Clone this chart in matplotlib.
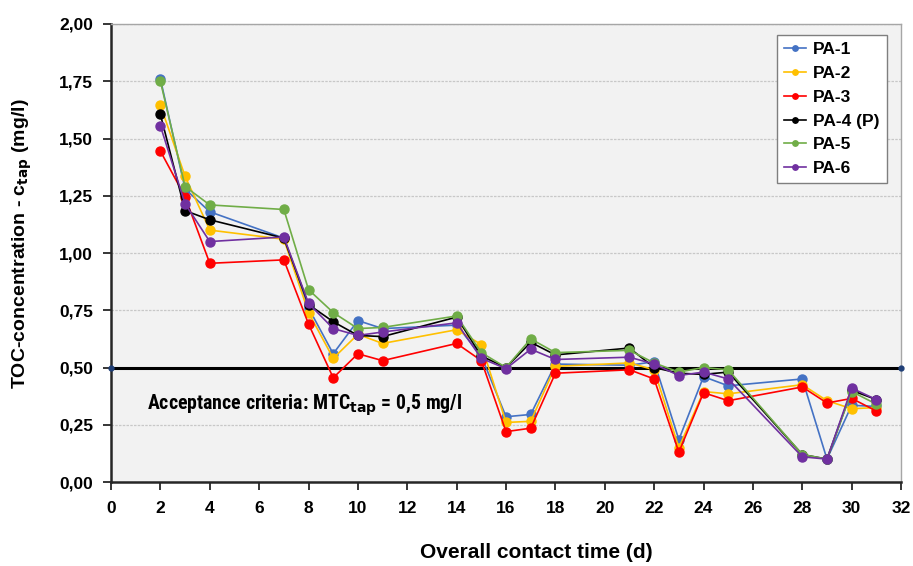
import matplotlib
matplotlib.use("Agg")
import matplotlib.pyplot as plt
from matplotlib.ticker import FuncFormatter, MultipleLocator

days = [2, 3, 4, 7, 8, 9, 10, 11, 14, 15, 16, 17, 18, 21, 22, 23, 24, 25, 28, 29, 30, 31]

pa1 = [1.76, 1.28, 1.18, 1.065, 0.76, 0.56, 0.705, 0.67, 0.685, 0.55, 0.285, 0.295, 0.515, 0.51, 0.525, 0.185, 0.46, 0.42, 0.45, 0.10, 0.335, 0.33]
pa2 = [1.645, 1.335, 1.10, 1.06, 0.74, 0.54, 0.645, 0.605, 0.665, 0.60, 0.26, 0.265, 0.505, 0.52, 0.49, 0.15, 0.395, 0.385, 0.425, 0.355, 0.32, 0.325]
pa3 = [1.445, 1.245, 0.955, 0.97, 0.69, 0.455, 0.56, 0.53, 0.605, 0.53, 0.22, 0.235, 0.475, 0.49, 0.45, 0.13, 0.39, 0.355, 0.415, 0.345, 0.365, 0.31]
pa4 = [1.605, 1.185, 1.145, 1.065, 0.775, 0.70, 0.64, 0.635, 0.72, 0.55, 0.50, 0.61, 0.555, 0.585, 0.50, 0.475, 0.47, 0.48, 0.12, 0.10, 0.40, 0.36]
pa5 = [1.75, 1.29, 1.21, 1.19, 0.84, 0.74, 0.67, 0.675, 0.725, 0.565, 0.50, 0.625, 0.565, 0.575, 0.52, 0.48, 0.50, 0.49, 0.12, 0.10, 0.395, 0.34]
pa6 = [1.555, 1.215, 1.05, 1.07, 0.78, 0.67, 0.64, 0.655, 0.695, 0.54, 0.495, 0.58, 0.535, 0.545, 0.515, 0.465, 0.48, 0.45, 0.11, 0.10, 0.41, 0.36]

series_names = ["PA-1", "PA-2", "PA-3", "PA-4 (P)", "PA-5", "PA-6"]
series_values = [pa1, pa2, pa3, pa4, pa5, pa6]
colors = ["#4472C4", "#FFC000", "#FF0000", "#000000", "#70AD47", "#7030A0"]

limit_x = [0, 32]
limit_y = [0.5, 0.5]

MAIN = ["Liberation Sans", "DejaVu Sans"]
NARROW = ["Liberation Sans Narrow", "DejaVu Sans Condensed", "Roboto Condensed", "Liberation Sans"]

fig = plt.figure(figsize=(9.13, 5.66), dpi=100)
ax = fig.add_axes([0.1216, 0.1484, 0.8653, 0.8092])
ax.set_facecolor("#F2F2F2")

ax.plot(limit_x, limit_y, color="black", lw=2.2, marker="o", ms=3.5,
        mfc="#1F3F77", mec="#1F3F77", zorder=3, clip_on=False)

for name, vals, c in zip(series_names, series_values, colors):
    ax.plot(days, vals, color=c, lw=1.2, marker="o", ms=6.5, mfc=c, mec=c,
            label=name, zorder=4)

ax.set_xlim(0, 32)
ax.set_ylim(0, 2.0)
ax.xaxis.set_major_locator(MultipleLocator(2))
ax.yaxis.set_major_locator(MultipleLocator(0.25))
ax.yaxis.set_major_formatter(FuncFormatter(lambda v, p: f"{v:.2f}".replace(".", ",")))

ax.grid(axis="y", color="#C8C8C8", lw=0.9, ls=(0, (2, 1)))
ax.set_axisbelow(True)

for s in ["top", "right"]:
    ax.spines[s].set_color("#A6A6A6")
    ax.spines[s].set_linewidth(1.0)
for s in ["left", "bottom"]:
    ax.spines[s].set_color("#262626")
    ax.spines[s].set_linewidth(1.8)

ax.tick_params(axis="both", direction="out", length=6, width=1.3, color="#262626")
ax.tick_params(axis="y", pad=7)
ax.tick_params(axis="x", pad=8)
for lab in ax.get_yticklabels() + ax.get_xticklabels():
    lab.set_fontweight("bold")
    lab.set_fontsize(12.5)
    lab.set_family(MAIN)

xl = ax.set_xlabel("Overall contact time (d)", fontsize=15, fontweight="bold",
                   family=MAIN, va="center")
ax.xaxis.set_label_coords(0.538, -0.153)
yl = ax.set_ylabel("TOC-concentration - c$_{\\mathbf{tap}}$ (mg/l)", fontsize=14,
                   fontweight="bold", family=MAIN, va="center")
ax.yaxis.set_label_coords(-0.1127, 0.52)

ax.text(1.45, 0.335, "Acceptance criteria: MTC$_{\\mathbf{tap}}$ = 0,5 mg/l",
        fontsize=14.3, fontweight="bold", family=NARROW,
        va="center", ha="left", zorder=5)

leg = ax.legend(loc="upper right", bbox_to_anchor=(0.982, 0.976), borderaxespad=0,
                frameon=True, fancybox=False, edgecolor="#7F7F7F", facecolor="white",
                framealpha=1,
                prop={"family": MAIN, "weight": "bold", "size": 12.5},
                handlelength=1.3, handletextpad=0.4, labelspacing=0.5,
                borderpad=0.4, markerscale=0.6)
leg.get_frame().set_linewidth(1.0)

fig.savefig("out.png", dpi=100)
